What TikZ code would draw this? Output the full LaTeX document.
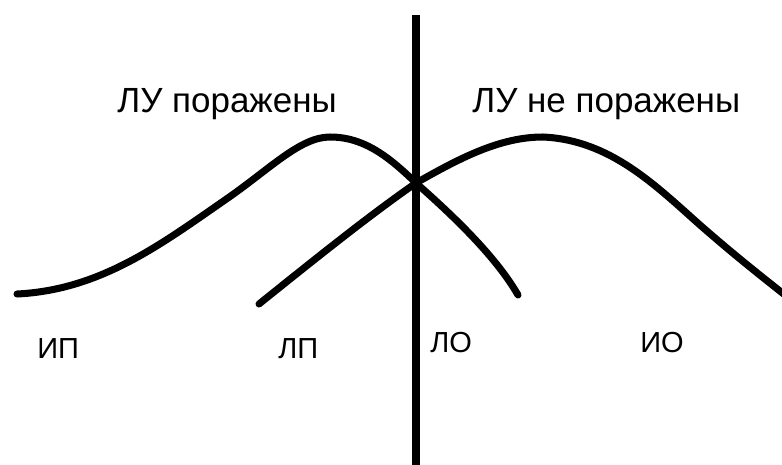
\documentclass[tikz,border=0pt]{standalone}
\usepackage{fontspec}
\setmainfont{Liberation Sans}

\begin{document}
\begin{tikzpicture}[x=0.02cm, y=-0.02cm, curve/.style={line width=4pt, line cap=round},
    title/.style={anchor=base west, inner sep=0pt, font=\fontsize{19.9}{22}\selectfont},
    zone/.style={anchor=base west, inner sep=0pt, font=\fontsize{16.5}{19}\selectfont}]
        \useasboundingbox (0,0) rectangle (782,464);
        \coordinate (Top) at (416,15);
        \coordinate (Bot) at (416,470);
        \coordinate (X) at (416,183);
        \draw[curve, line cap=butt] (Top) -- (Bot);
        % struck nodes
        \draw[curve] (17,294) .. controls (100,290) and (160,245) .. (225,200)
            .. controls (270,169) and (300,137) .. (330,137)
            .. controls (365,137) and (390,158) .. (X)
            .. controls (450,213) and (495,255) .. (518,295);
        % intact nodes
        \draw[curve] (259,304) .. controls (320,255) and (370,215) .. (X)
            .. controls (460,158) and (500,137) .. (543,137)
            .. controls (610,140) and (655,185) .. (700,225)
            .. controls (740,260) and (770,283) .. (795,303);
        \node[title] (LUp) at (117,112) {ЛУ поражены};
        \node[title] (LUn) at (472,112) {ЛУ не поражены};
        \node[zone] (IP) at (37,358) {ИП};
        \node[zone] (LP) at (278,358) {ЛП};
        \node[zone] (LO) at (430,352) {ЛО};
        \node[zone] (IO) at (640,352) {ИО};
    \end{tikzpicture}
\end{document}
